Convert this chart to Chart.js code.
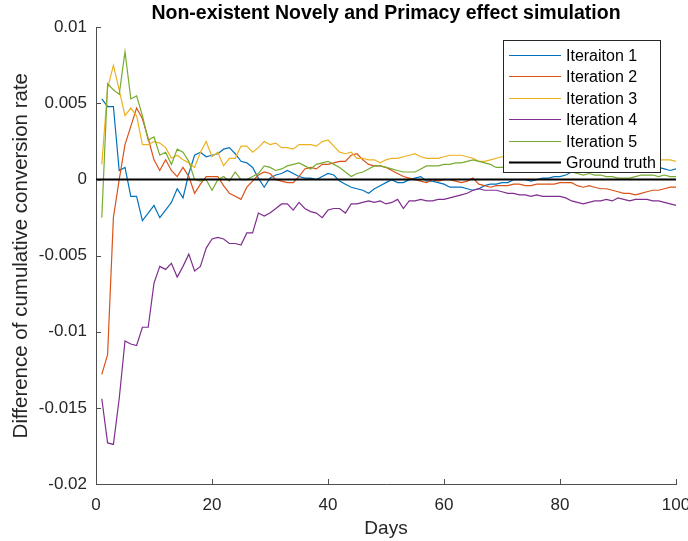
<!DOCTYPE html>
<html>
<head>
<meta charset="utf-8">
<title>Non-existent Novely and Primacy effect simulation</title>
<script src="https://cdn.jsdelivr.net/npm/chart.js@4.4.1/dist/chart.umd.min.js"></script>
<style>
  html, body { margin: 0; padding: 0; background: #fff; }
  #chart { display: block; }
</style>
</head>
<body>
<canvas id="chart" width="688" height="541"></canvas>
<script>
// Difference of cumulative conversion rate per simulated day
const days = Array.from({ length: 100 }, (_, i) => i + 1);

const iteration1 = [
  0.0053, 0.0048, 0.0048, 0.0006, 0.0008, -0.0011, -0.0011, -0.0027, -0.0022, -0.0017,
  -0.0025, -0.0020, -0.0015, -0.0006, -0.0012, 0.0004, 0.0016, 0.0018, 0.0015, 0.0016,
  0.0017, 0.0020, 0.0021, 0.0017, 0.0012, 0.0011, 0.0008, 0.0001, -0.0005, 0.0001,
  0.0003, 0.0004, 0.0006, 0.0004, 0.0002, 0.0001, 0.0001, 0.0000, 0.0002, 0.0004,
  0.0003, -0.0001, -0.0003, -0.0005, -0.0006, -0.0007, -0.0009, -0.0006, -0.0004, -0.0002,
  0.0000, -0.0002, -0.0002, 0.0000, 0.0001, 0.0002, -0.0001, -0.0001, -0.0002, -0.0003,
  -0.0005, -0.0005, -0.0005, -0.0006, -0.0007, -0.0006, -0.0004, -0.0003, -0.0003, -0.0002,
  -0.0002, 0.0000, 0.0000, 0.0000, -0.0001, 0.0000, 0.0001, 0.0001, 0.0002, 0.0002,
  0.0003, 0.0005, 0.0006, 0.0006, 0.0007, 0.0007, 0.0008, 0.0008, 0.0007, 0.0008,
  0.0008, 0.0009, 0.0008, 0.0009, 0.0008, 0.0008, 0.0008, 0.0007, 0.0006, 0.0007
];

const iteration2 = [
  -0.0128, -0.0115, -0.0025, 0.0000, 0.0023, 0.0035, 0.0047, 0.0040, 0.0027, 0.0013,
  0.0006, 0.0013, 0.0006, 0.0002, 0.0008, 0.0002, -0.0009, -0.0003, 0.0002, 0.0002,
  0.0002, -0.0004, -0.0009, -0.0011, -0.0013, -0.0005, -0.0001, 0.0003, 0.0005, 0.0004,
  0.0000, -0.0001, -0.0002, -0.0002, 0.0002, 0.0007, 0.0008, 0.0007, 0.0010, 0.0010,
  0.0011, 0.0012, 0.0012, 0.0016, 0.0017, 0.0013, 0.0010, 0.0009, 0.0009, 0.0008,
  0.0006, 0.0004, 0.0002, 0.0001, 0.0000, -0.0001, -0.0002, 0.0000, -0.0001, 0.0000,
  0.0000, -0.0001, -0.0002, -0.0001, 0.0001, -0.0003, -0.0004, -0.0005, -0.0004, -0.0004,
  -0.0004, -0.0003, -0.0003, -0.0004, -0.0004, -0.0003, -0.0003, -0.0003, -0.0003, -0.0002,
  -0.0002, -0.0002, -0.0004, -0.0005, -0.0004, -0.0005, -0.0006, -0.0006, -0.0007, -0.0008,
  -0.0009, -0.0009, -0.0010, -0.0009, -0.0008, -0.0007, -0.0007, -0.0006, -0.0005, -0.0005
];

const iteration3 = [
  0.0010, 0.0060, 0.0075, 0.0059, 0.0042, 0.0047, 0.0042, 0.0023, 0.0023, 0.0025,
  0.0024, 0.0021, 0.0014, 0.0016, 0.0013, 0.0011, 0.0008, 0.0018, 0.0025, 0.0015,
  0.0018, 0.0009, 0.0014, 0.0014, 0.0022, 0.0022, 0.0018, 0.0021, 0.0025, 0.0023,
  0.0024, 0.0021, 0.0021, 0.0020, 0.0023, 0.0023, 0.0023, 0.0022, 0.0025, 0.0026,
  0.0022, 0.0018, 0.0017, 0.0018, 0.0014, 0.0014, 0.0013, 0.0013, 0.0011, 0.0013,
  0.0014, 0.0014, 0.0015, 0.0016, 0.0017, 0.0015, 0.0014, 0.0014, 0.0014, 0.0015,
  0.0016, 0.0016, 0.0016, 0.0015, 0.0014, 0.0012, 0.0012, 0.0013, 0.0014, 0.0015,
  0.0015, 0.0015, 0.0014, 0.0014, 0.0015, 0.0015, 0.0014, 0.0014, 0.0015, 0.0015,
  0.0014, 0.0014, 0.0015, 0.0015, 0.0014, 0.0014, 0.0014, 0.0015, 0.0014, 0.0014,
  0.0013, 0.0014, 0.0014, 0.0013, 0.0014, 0.0013, 0.0013, 0.0013, 0.0013, 0.0012
];

const iteration4 = [
  -0.0144, -0.0173, -0.0174, -0.0144, -0.0106, -0.0108, -0.0109, -0.0097, -0.0097, -0.0068,
  -0.0057, -0.0059, -0.0055, -0.0064, -0.0057, -0.0049, -0.0060, -0.0057, -0.0045, -0.0039,
  -0.0038, -0.0039, -0.0042, -0.0042, -0.0043, -0.0035, -0.0035, -0.0022, -0.0024, -0.0022,
  -0.0019, -0.0016, -0.0016, -0.0020, -0.0015, -0.0019, -0.0021, -0.0022, -0.0025, -0.0020,
  -0.0019, -0.0019, -0.0022, -0.0016, -0.0016, -0.0015, -0.0014, -0.0015, -0.0014, -0.0016,
  -0.0015, -0.0013, -0.0019, -0.0014, -0.0014, -0.0013, -0.0014, -0.0014, -0.0013, -0.0013,
  -0.0012, -0.0011, -0.0010, -0.0009, -0.0007, -0.0006, -0.0007, -0.0007, -0.0007, -0.0008,
  -0.0009, -0.0009, -0.0010, -0.0010, -0.0011, -0.0010, -0.0011, -0.0011, -0.0011, -0.0011,
  -0.0012, -0.0014, -0.0015, -0.0016, -0.0015, -0.0014, -0.0014, -0.0013, -0.0014, -0.0012,
  -0.0013, -0.0014, -0.0013, -0.0013, -0.0013, -0.0014, -0.0014, -0.0015, -0.0016, -0.0017
];

const iteration5 = [
  -0.0025, 0.0063, 0.0059, 0.0056, 0.0084, 0.0053, 0.0055, 0.0042, 0.0026, 0.0028,
  0.0016, 0.0018, 0.0010, 0.0020, 0.0018, 0.0012, 0.0000, -0.0001, 0.0000, -0.0007,
  0.0000, 0.0002, -0.0001, 0.0005, 0.0000, 0.0000, 0.0002, 0.0004, 0.0009, 0.0008,
  0.0006, 0.0007, 0.0009, 0.0010, 0.0011, 0.0009, 0.0007, 0.0010, 0.0011, 0.0012,
  0.0010, 0.0008, 0.0005, 0.0002, 0.0004, 0.0005, 0.0007, 0.0009, 0.0009, 0.0008,
  0.0007, 0.0006, 0.0005, 0.0005, 0.0005, 0.0007, 0.0009, 0.0009, 0.0009, 0.0010,
  0.0010, 0.0011, 0.0011, 0.0012, 0.0013, 0.0012, 0.0011, 0.0010, 0.0008, 0.0008,
  0.0009, 0.0009, 0.0008, 0.0008, 0.0007, 0.0007, 0.0006, 0.0006, 0.0006, 0.0005,
  0.0005, 0.0005, 0.0004, 0.0003, 0.0004, 0.0003, 0.0003, 0.0002, 0.0002, 0.0001,
  0.0001, 0.0001, 0.0002, 0.0003, 0.0003, 0.0003, 0.0002, 0.0003, 0.0002, 0.0002
];

// Zero line spanning the whole x range
const truthDays = [0, 100];
const truthValues = [0, 0];

const seriesLabels = ['Iteraiton 1', 'Iteration 2', 'Iteration 3', 'Iteration 4', 'Iteration 5'];
const seriesColors = ['#0072BD', '#D95319', '#EDB120', '#7E2F8E', '#77AC30'];
const xTicks = [0, 20, 40, 60, 80, 100];
const yTicks = [-0.02, -0.015, -0.01, -0.005, 0, 0.005, 0.01];

const FONT = '"Liberation Sans", Arial, Helvetica, sans-serif';
const INK = '#262626';

function toPoints(xs, ys) {
  return ys.map((y, i) => ({ x: xs[i], y: y }));
}

const series = [iteration1, iteration2, iteration3, iteration4, iteration5];
const datasets = series.map((values, i) => ({
  label: seriesLabels[i],
  data: toPoints(days, values),
  borderColor: seriesColors[i],
  borderWidth: 1.2,
  order: 5 - i
}));
datasets.push({
  label: 'Ground truth',
  data: toPoints(truthDays, truthValues),
  borderColor: '#000000',
  borderWidth: 2,
  order: 0
});

// inward tick marks on the left and bottom axes
const innerTicks = {
  id: 'innerTicks',
  afterDraw(chart) {
    const { ctx, chartArea, scales } = chart;
    const len = 5;
    ctx.save();
    ctx.strokeStyle = '#4d4d4d';
    ctx.lineWidth = 1;
    ctx.beginPath();
    xTicks.forEach(v => {
      const px = Math.round(scales.x.getPixelForValue(v)) + 0.5;
      ctx.moveTo(px, chartArea.bottom);
      ctx.lineTo(px, chartArea.bottom - len);
    });
    yTicks.forEach(v => {
      const py = Math.round(scales.y.getPixelForValue(v)) + 0.5;
      ctx.moveTo(chartArea.left, py);
      ctx.lineTo(chartArea.left + len, py);
    });
    ctx.stroke();
    ctx.restore();
  }
};

// boxed legend in the upper right corner of the plot
const legendBox = {
  id: 'legendBox',
  afterDatasetsDraw(chart) {
    const { ctx, chartArea } = chart;
    const w = 157, h = 132;
    const left = Math.round(chartArea.right - 16 - w);
    const top = Math.round(chartArea.top + 13);
    ctx.save();
    ctx.fillStyle = '#ffffff';
    ctx.fillRect(left, top, w, h);
    ctx.strokeStyle = INK;
    ctx.lineWidth = 1;
    ctx.strokeRect(left + 0.5, top + 0.5, w, h);
    ctx.font = '16px ' + FONT;
    ctx.textBaseline = 'middle';
    chart.data.datasets.forEach((ds, i) => {
      const y = Math.round(top + 15 + i * 21.4) + 0.5;
      ctx.strokeStyle = ds.borderColor;
      ctx.lineWidth = ds.borderWidth;
      ctx.beginPath();
      ctx.moveTo(left + 6, y);
      ctx.lineTo(left + 58, y);
      ctx.stroke();
      ctx.fillStyle = '#000000';
      ctx.fillText(ds.label, left + 63, y + 1);
    });
    ctx.restore();
  }
};

new Chart(document.getElementById('chart'), {
  type: 'line',
  data: { datasets: datasets },
  plugins: [legendBox, innerTicks],
  options: {
    responsive: false,
    animation: false,
    layout: { padding: { left: 0, right: 12, top: 0, bottom: 0 } },
    elements: {
      point: { radius: 0, hoverRadius: 0 },
      line: { tension: 0, fill: false }
    },
    plugins: {
      legend: { display: false },
      tooltip: { enabled: false },
      title: {
        display: true,
        text: 'Non-existent Novely and Primacy effect simulation',
        fullSize: false,
        color: '#000000',
        font: { family: FONT, size: 19.5, weight: 'bold' },
        padding: { top: 2, bottom: 2 }
      }
    },
    scales: {
      x: {
        type: 'linear',
        min: 0,
        max: 100,
        afterBuildTicks: scale => { scale.ticks = xTicks.map(v => ({ value: v })); },
        ticks: {
          color: INK,
          font: { family: FONT, size: 17 },
          padding: 11,
          maxRotation: 0,
          autoSkip: false
        },
        grid: { display: true, drawOnChartArea: false, drawTicks: false },
        border: { display: true, color: '#4d4d4d', width: 1 },
        title: {
          display: true,
          text: 'Days',
          color: INK,
          font: { family: FONT, size: 19 },
          padding: { top: 0, bottom: 1 }
        },
        afterFit: scale => {
          scale.height = 57;
          scale.paddingLeft = 0;
          scale.paddingRight = 0;
        }
      },
      y: {
        type: 'linear',
        min: -0.02,
        max: 0.01,
        afterBuildTicks: scale => { scale.ticks = yTicks.map(v => ({ value: v })); },
        ticks: {
          color: INK,
          font: { family: FONT, size: 17 },
          padding: 9,
          autoSkip: false,
          callback: v => String(+v.toFixed(3))
        },
        grid: { display: true, drawOnChartArea: false, drawTicks: false },
        border: { display: true, color: '#4d4d4d', width: 1 },
        title: {
          display: true,
          text: 'Difference of cumulative conversion rate',
          color: INK,
          font: { family: FONT, size: 20.5 },
          padding: { top: 9, bottom: 0 }
        },
        afterFit: scale => {
          scale.width = 96;
          scale.paddingTop = 0;
          scale.paddingBottom = 0;
        }
      }
    }
  }
});
</script>
</body>
</html>
